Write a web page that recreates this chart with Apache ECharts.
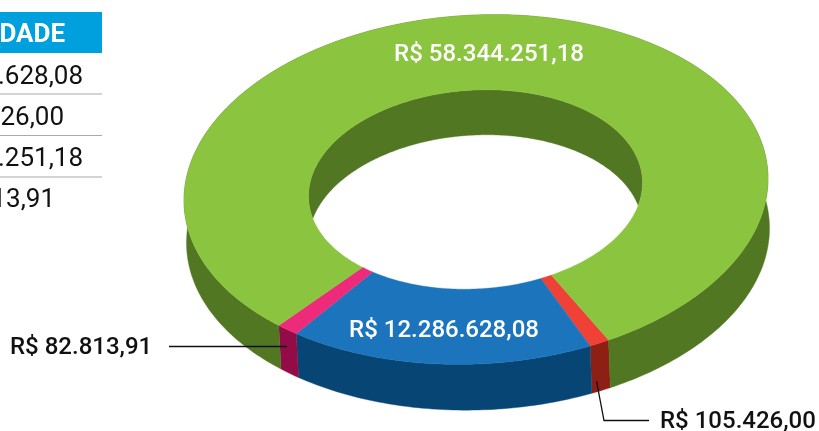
<!DOCTYPE html>
<html><head><meta charset="utf-8">
<style>html,body{margin:0;padding:0;background:#fff}#c{width:819px;height:431px}</style>
<script src="https://cdn.jsdelivr.net/npm/echarts@6/dist/echarts.min.js"></script>
</head><body><div id="c"></div>
<script>
// Slices in drawing order, clockwise from the lower right
const sliceLabels = ['R$ 105.426,00', 'R$ 12.286.628,08', 'R$ 82.813,91', 'R$ 58.344.251,18'];
// Angles as drawn in the picture (the small slices are exaggerated there)
const sliceSweepDegrees = [4, 61, 4.5, 290.5];
const topColors = ['#EF4136', '#1C75BC', '#EE2A7B', '#8BC53F'];
const wallColors = ['#8E1F14', '#074674', '#930B47', '#517722'];
const tableHeader = 'DADE';
const tableRows = ['R$ 12.286.628,08', 'R$ 105.426,00', 'R$ 58.344.251,18', 'R$ 82.813,91'];

const FIRST_ANGLE = 63;
const D = Math.PI / 180;
const top_ = { outer: {cx:476, cy:189.5, rx:292, ry:174.5, s:.037}, inner: {cx:475.5, cy:189.5, rx:167, ry:99.5, s:.04} };
const floorOuter = {cx:478, cy:235.5, rx:291.5, ry:174.5, s:.025};
const HOLE_DEPTH = 45;

function pt(e, t){ return [e.cx + e.rx*Math.cos(t), e.cy + e.ry*Math.sin(t) - e.s*e.rx*Math.cos(t)]; }
function arc(e, a, b){ const n = Math.max(2, Math.ceil(Math.abs(b-a)/(D*1))); const r=[];
  for(let i=0;i<=n;i++) r.push(pt(e, a+(b-a)*i/n)); return r; }

let acc = FIRST_ANGLE;
const sliceData = sliceSweepDegrees.map((sw,i)=>{ const row=[acc, acc+sw, i]; acc+=sw; return row; });

function poly(points, color){
  return {type:'polygon', shape:{points}, style:{fill:color, stroke:color, lineWidth:.4}};
}
const option = {
  animation:false,
  backgroundColor:'#fff',
  series:[
    { type:'custom', coordinateSystem:'none', silent:true, z:1, data:[[0]],
      renderItem(){
        const e=top_.inner, f=Object.assign({},e,{cy:e.cy+HOLE_DEPTH});
        const a=Math.asin(HOLE_DEPTH/(2*e.ry));
        const pts=arc(e,Math.PI-a,2*Math.PI+a).concat(arc(f,2*Math.PI-a,Math.PI+a));
        return poly(pts,wallColors[3]);
      }},
    { type:'custom', coordinateSystem:'none', silent:true, z:2, data:sliceData,
      renderItem(p,api){
        const a=api.value(0)*D,b=api.value(1)*D,i=api.value(2);
        return poly(arc(top_.outer,a,b).concat(arc(floorOuter,b,a)),wallColors[i]);
      }},
    { type:'custom', coordinateSystem:'none', silent:true, z:3, data:sliceData,
      renderItem(p,api){
        const a=api.value(0)*D,b=api.value(1)*D,i=api.value(2);
        return poly(arc(top_.outer,a,b).concat(arc(top_.inner,b,a)),topColors[i]);
      }}
  ],
  graphic:{elements:[
    {type:'rect',shape:{x:0,y:12,width:102,height:41},style:{fill:'#00A0DF'}},
    {type:'text',style:{x:65,y:35,text:tableHeader,align:'right',verticalAlign:'middle',fill:'#fff',font:'700 26px Roboto'}},
    ...[94,135.5,177].map(y=>({type:'line',shape:{x1:0,y1:y,x2:102,y2:y},style:{stroke:'#aaaaaa',lineWidth:1.2}})),
    ...tableRows.map((t,i)=>({type:'text',style:{x:[83,64,83,55][i],y:77+i*41.3,text:t,align:'right',verticalAlign:'middle',fill:'#111',font:'400 26px Roboto'}})),
    {type:'text',z:10,style:{x:489,y:55,text:sliceLabels[3],align:'center',verticalAlign:'middle',fill:'#fff',font:'500 24px Roboto'}},
    {type:'text',z:10,style:{x:444,y:331,text:sliceLabels[1],align:'center',verticalAlign:'middle',fill:'#fff',font:'500 24px Roboto'}},
    {type:'text',z:10,style:{x:10,y:348,text:sliceLabels[2],align:'left',verticalAlign:'middle',fill:'#111',font:'500 24px Roboto'}},
    {type:'text',z:10,style:{x:660,y:422,text:sliceLabels[0],align:'left',verticalAlign:'middle',fill:'#111',font:'500 24px Roboto'}},
    {type:'polyline',z:10,shape:{points:[[169,346.5],[287,346.5]]},style:{stroke:'#111',lineWidth:1.3,fill:'none'}},
    {type:'polyline',z:10,shape:{points:[[596.5,381],[604,420.5],[649,420.5]]},style:{stroke:'#111',lineWidth:1.3,fill:'none'}}
  ]}
};
echarts.init(document.getElementById('c'),null,{renderer:'canvas'}).setOption(option);
</script></body></html>
